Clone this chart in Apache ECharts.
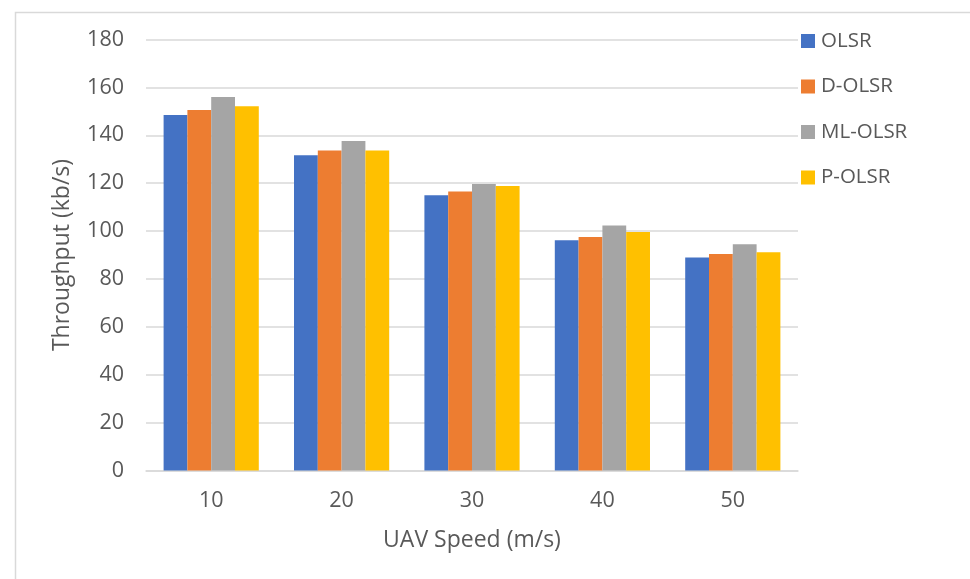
<!DOCTYPE html>
<html>
<head>
<meta charset="utf-8">
<script src="https://cdn.jsdelivr.net/npm/echarts@6/dist/echarts.min.js"></script>
<style>
  html, body { margin: 0; padding: 0; background: #fff; }
  #chart { width: 970px; height: 579px; }
</style>
</head>
<body>
<div id="chart"></div>
<script>
// UAV speed categories (m/s)
const speeds = ['10', '20', '30', '40', '50'];

// Throughput per protocol (kb/s)
const olsr   = [148.5, 131.7, 115.0, 96.2, 89.0];
const dOlsr  = [150.6, 133.6, 116.5, 97.5, 90.4];
const mlOlsr = [156.0, 137.6, 119.7, 102.3, 94.5];
const pOlsr  = [152.1, 133.6, 118.8, 99.6, 91.1];

const seriesNames = ['OLSR', 'D-OLSR', 'ML-OLSR', 'P-OLSR'];
const seriesData = [olsr, dOlsr, mlOlsr, pOlsr];
const colors = ['#4472C4', '#ED7D31', '#A5A5A5', '#FFC000'];

const FONT = '"Open Sans", "Liberation Sans", sans-serif';
const TEXT = '#595959';
const GRID = '#D9D9D9';

const chart = echarts.init(document.getElementById('chart'), null, { renderer: 'canvas' });

chart.setOption({
  animation: false,
  backgroundColor: '#ffffff',
  textStyle: { fontFamily: FONT, color: TEXT },
  graphic: [{
    type: 'rect',
    left: 13, top: 10,
    shape: { width: 1000, height: 620 },
    style: { fill: 'none', stroke: GRID, lineWidth: 1.5 },
    silent: true,
    z: -10
  }],
  grid: { left: 146, right: 172, top: 39.5, bottom: 108.5, containLabel: false },
  legend: {
    orient: 'vertical',
    left: 801, top: 30.5,
    padding: 0,
    itemWidth: 14, itemHeight: 14,
    itemGap: 24.5,
    icon: 'rect',
    textStyle: { fontFamily: FONT, fontSize: 20.5, color: TEXT, padding: [0, 0, 0, 1] },
    data: seriesNames
  },
  xAxis: {
    type: 'category',
    data: speeds,
    name: 'UAV Speed (m/s)',
    nameLocation: 'middle',
    nameGap: 58,
    nameTextStyle: { fontFamily: FONT, fontSize: 23, color: TEXT },
    axisLine: { lineStyle: { color: GRID, width: 1.5 } },
    axisTick: { show: false },
    axisLabel: { fontFamily: FONT, fontSize: 21.5, color: TEXT, margin: 19 }
  },
  yAxis: {
    type: 'value',
    min: 0, max: 180, interval: 20,
    name: 'Throughput (kb/s)',
    nameLocation: 'middle',
    nameGap: 72,
    nameRotate: 90,
    nameTextStyle: { fontFamily: FONT, fontSize: 23, color: TEXT },
    axisLine: { show: false },
    axisTick: { show: false },
    splitLine: { lineStyle: { color: GRID, width: 1.5 } },
    axisLabel: { fontFamily: FONT, fontSize: 21.5, color: TEXT, margin: 22 }
  },
  series: seriesNames.map((name, i) => ({
    name: name,
    type: 'bar',
    data: seriesData[i],
    barGap: '0%',
    barCategoryGap: '27%',
    itemStyle: { color: colors[i] }
  }))
});
</script>
</body>
</html>
